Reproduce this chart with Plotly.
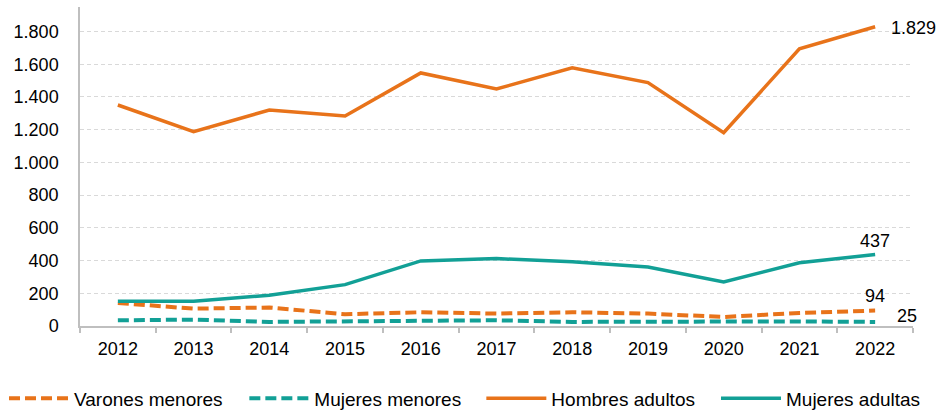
import plotly.graph_objects as go

years = ["2012", "2013", "2014", "2015", "2016", "2017", "2018", "2019", "2020", "2021", "2022"]
varones_menores = [141, 106, 113, 72, 84, 76, 84, 76, 55, 80, 94]
mujeres_menores = [35, 39, 25, 29, 31, 35, 25, 27, 29, 28, 25]
hombres_adultos = [1351, 1188, 1320, 1284, 1547, 1449, 1578, 1488, 1182, 1694, 1829]
mujeres_adultas = [151, 151, 188, 253, 398, 412, 392, 361, 269, 386, 437]
y_ticks = [0, 200, 400, 600, 800, 1000, 1200, 1400, 1600, 1800]

ORANGE = "#E8731A"
TEAL = "#12A096"
FONT = "Liberation Sans, Arial, sans-serif"


def fmt(v):
    return f"{v:,}".replace(",", ".")


fig = go.Figure()
fig.add_trace(go.Scatter(x=years, y=varones_menores, name="Varones menores", mode="lines",
                         legend="legend",
                         line=dict(color=ORANGE, width=4, dash="11px,5px")))
fig.add_trace(go.Scatter(x=years, y=mujeres_menores, name="Mujeres menores", mode="lines",
                         legend="legend2",
                         line=dict(color=TEAL, width=4, dash="11px,5px")))
fig.add_trace(go.Scatter(x=years, y=hombres_adultos, name="Hombres adultos", mode="lines",
                         legend="legend3",
                         line=dict(color=ORANGE, width=3.5)))
fig.add_trace(go.Scatter(x=years, y=mujeres_adultas, name="Mujeres adultas", mode="lines",
                         legend="legend4",
                         line=dict(color=TEAL, width=3.5)))

last = len(years) - 1
labels = [
    (hombres_adultos, "left", "middle", 14, -1),
    (mujeres_adultas, "center", "bottom", 0, 2),
    (varones_menores, "center", "bottom", 0, 3),
    (mujeres_menores, "left", "middle", 20, 6),
]
for series, xa, ya, xs, ys in labels:
    fig.add_annotation(x=last, y=series[-1], xref="x", yref="y", text=fmt(series[-1]),
                       showarrow=False, xanchor=xa, yanchor=ya, xshift=xs, yshift=ys,
                       font=dict(size=18, color="#000000", family=FONT))


def leg(x):
    return dict(orientation="h", x=x, xanchor="left", y=-0.227, yanchor="middle",
                font=dict(size=19, family=FONT, color="#000000"),
                itemwidth=60, bgcolor="rgba(0,0,0,0)")


fig.update_layout(
    width=937, height=411,
    margin=dict(l=80, r=24, t=7, b=85, autoexpand=False),
    paper_bgcolor="white", plot_bgcolor="white",
    separators=",.",
    font=dict(family=FONT, size=18, color="#000000"),
    showlegend=True,
    legend=leg(-0.0912), legend2=leg(0.1973), legend3=leg(0.4818), legend4=leg(0.7635),
    xaxis=dict(type="category", range=[-0.5, last + 0.5], showline=True,
               linecolor="#BFBFBF", linewidth=1.5,
               ticks="outside", tickson="boundaries", ticklen=5, tickcolor="#BFBFBF",
               tickwidth=1.5, showgrid=False, ticklabelstandoff=6,
               tickfont=dict(size=18, family=FONT, color="#000000")),
    yaxis=dict(range=[0, 1950], tickvals=y_ticks, tickformat=",d", showline=True,
               linecolor="#BFBFBF", linewidth=1.5, showgrid=True, gridcolor="#D9D9D9",
               gridwidth=1, griddash="4px,3px", zeroline=False, ticks="",
               ticklabelstandoff=16,
               tickfont=dict(size=18, family=FONT, color="#000000")),
)

fig.write_html("out.html", config={"displayModeBar": False},
               post_script="document.body.style.margin='0';")
